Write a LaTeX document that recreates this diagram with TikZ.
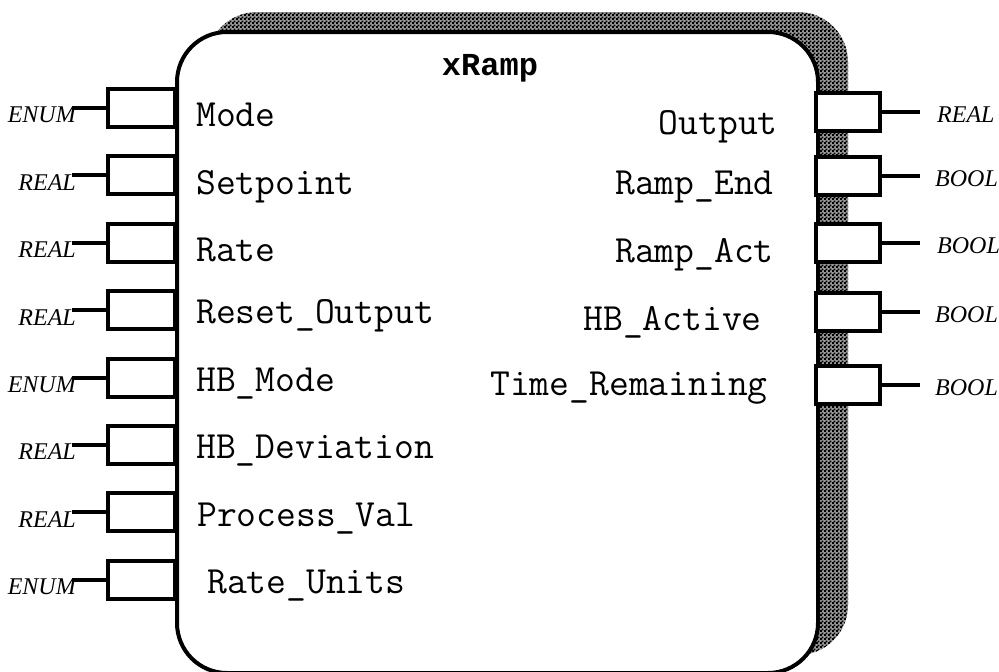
\documentclass[tikz,border=0pt]{standalone}
\usepackage{fontspec}
\newfontfamily\titlefont{Liberation Mono}
\newfontfamily\typefont{Liberation Serif}
\usetikzlibrary{patterns}
\pgfdeclarepatternformonly{finecheck}{\pgfqpoint{0pt}{0pt}}{\pgfqpoint{4pt}{4pt}}{\pgfqpoint{4pt}{4pt}}{%
  \pgfpathrectangle{\pgfpointorigin}{\pgfqpoint{2.3pt}{2.3pt}}%
  \pgfpathrectangle{\pgfqpoint{2pt}{2pt}}{\pgfqpoint{2.3pt}{2.3pt}}%
  \pgfusepath{fill}}
\begin{document}
\begin{tikzpicture}[x=1pt,y=-1pt,
  blk/.style={draw=black,line width=4pt,fill=white,rounded corners=50pt},
  shadowbox/.style={fill=black!40,postaction={pattern=finecheck,pattern color=black},rounded corners=50pt},
  pinbox/.style={draw=black,line width=4pt,fill=white,minimum width=67pt,minimum height=38pt,inner sep=0pt},
  wire/.style={line width=4pt},
  pname/.style={font=\ttfamily\fontsize{38.5}{38.5}\selectfont,inner sep=0pt},
  ptype/.style={font=\typefont\itshape\fontsize{24}{24}\selectfont,inner sep=0pt},
  title/.style={font=\titlefont\bfseries\fontsize{32}{32}\selectfont,inner sep=0pt}]
\useasboundingbox (0,0) rectangle (999,672);
% shadow and block
\fill[shadowbox] (207,12) rectangle (848,655);
\node[blk,minimum width=641pt,minimum height=641pt,anchor=north west] (blk) at (175,30) {};
\node[title,anchor=base] (ttl) at (490,75) {xRamp};
% inputs
\foreach \i/\y/\t/\n/\nx/\ny in {
  1/108/ENUM/Mode/196/116,
  2/175.4/REAL/Setpoint/196/184,
  3/242.8/REAL/Rate/196/251,
  4/310.2/REAL/Reset\_Output/196/313,
  5/377.6/ENUM/HB\_Mode/196/381,
  6/445/REAL/HB\_Deviation/196/448,
  7/512.4/REAL/Process\_Val/197/516,
  8/580/ENUM/Rate\_Units/207/583}{
  \node[pinbox] (in\i) at (141.5,\y) {};
  \coordinate (iw\i) at (72,\y);
  \draw[wire] (iw\i) -- (in\i.west);
  \node[ptype,anchor=east] (it\i) at (76,\y+7) {\t};
  \node[pname,anchor=base west] (in\i name) at (\nx,\ny+10) {\n};
}
% outputs
\foreach \i/\y/\t/\n/\nx/\ny/\tx in {
  1/112/REAL/Output/778/124/937,
  2/176/BOOL/Ramp\_End/774/184/935,
  3/243/BOOL/Ramp\_Act/774/252/937,
  4/312/BOOL/HB\_Active/762/320/935,
  5/385/BOOL/Time\_Remaining/768/385/935}{
  \node[pinbox,minimum width=64pt] (out\i) at (848,\y) {};
  \coordinate (ow\i) at (920,\y);
  \draw[wire] (out\i.east) -- (ow\i);
  \node[ptype,anchor=west] (ot\i) at (\tx,\y+3) {\t};
  \node[pname,anchor=base east] (out\i name) at (\nx,\ny+10) {\n};
}
\end{tikzpicture}
\end{document}
